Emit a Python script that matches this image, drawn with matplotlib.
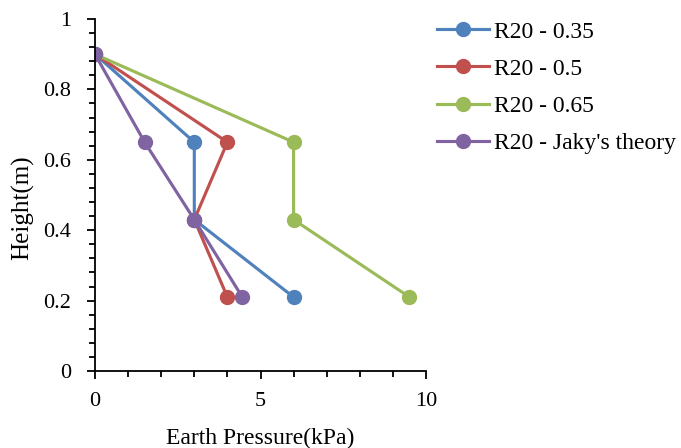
import matplotlib
matplotlib.use("Agg")
import matplotlib.pyplot as plt
from matplotlib.ticker import MultipleLocator

plt.rcParams['font.family'] = ['Liberation Serif', 'DejaVu Serif']

heights = [0.9, 0.65, 0.43, 0.21]
series_names = ["R20 - 0.35", "R20 - 0.5", "R20 - 0.65", "R20 - Jaky's theory"]
p_035 = [0, 3, 3, 6]
p_05 = [0, 4, 3, 4]
p_065 = [0, 6, 6, 9.5]
p_jaky = [0, 1.5, 3, 4.45]
colors = ["#4F81BD", "#C0504D", "#9BBB59", "#8064A2"]

fig = plt.figure(figsize=(6.81, 4.48), dpi=100)
ax = fig.add_axes([95/681, 1-371/448, (426-95)/681, (371-19)/448])

for vals, name, c in zip([p_035, p_05, p_065, p_jaky], series_names, colors):
    ax.plot(vals, heights, color=c, lw=2.25, marker='o', ms=10, label=name)

ax.set_xlim(0, 10)
ax.set_ylim(0, 1)
ax.xaxis.set_major_locator(MultipleLocator(5))
ax.xaxis.set_minor_locator(MultipleLocator(1))
ax.yaxis.set_minor_locator(MultipleLocator(0.04))
ax.set_yticks([0, 0.2, 0.4, 0.6, 0.8, 1.0])
ax.set_yticklabels(['0', '0.2', '0.4', '0.6', '0.8', '1'])
for s in ['top', 'right']:
    ax.spines[s].set_visible(False)
for s in ['left', 'bottom']:
    ax.spines[s].set_linewidth(1.3)
ax.tick_params(which='major', length=6, width=1.3, labelsize=16)
ax.tick_params(which='minor', length=4, width=1.3)
ax.tick_params(axis='x', pad=9)
ax.tick_params(axis='y', pad=11)
ax.set_xlabel('Earth Pressure(kPa)', fontsize=17, labelpad=12)
ax.set_ylabel('Height(m)', fontsize=18)
ax.yaxis.set_label_coords(-61/331, (371-208)/352)

fig.legend(loc='upper left', bbox_to_anchor=(437/681, 1-21/448), frameon=False,
           fontsize=17, handlelength=2.2, handletextpad=0.2, labelspacing=0.665,
           borderaxespad=0, borderpad=0)

fig.savefig('out.png', dpi=100)
